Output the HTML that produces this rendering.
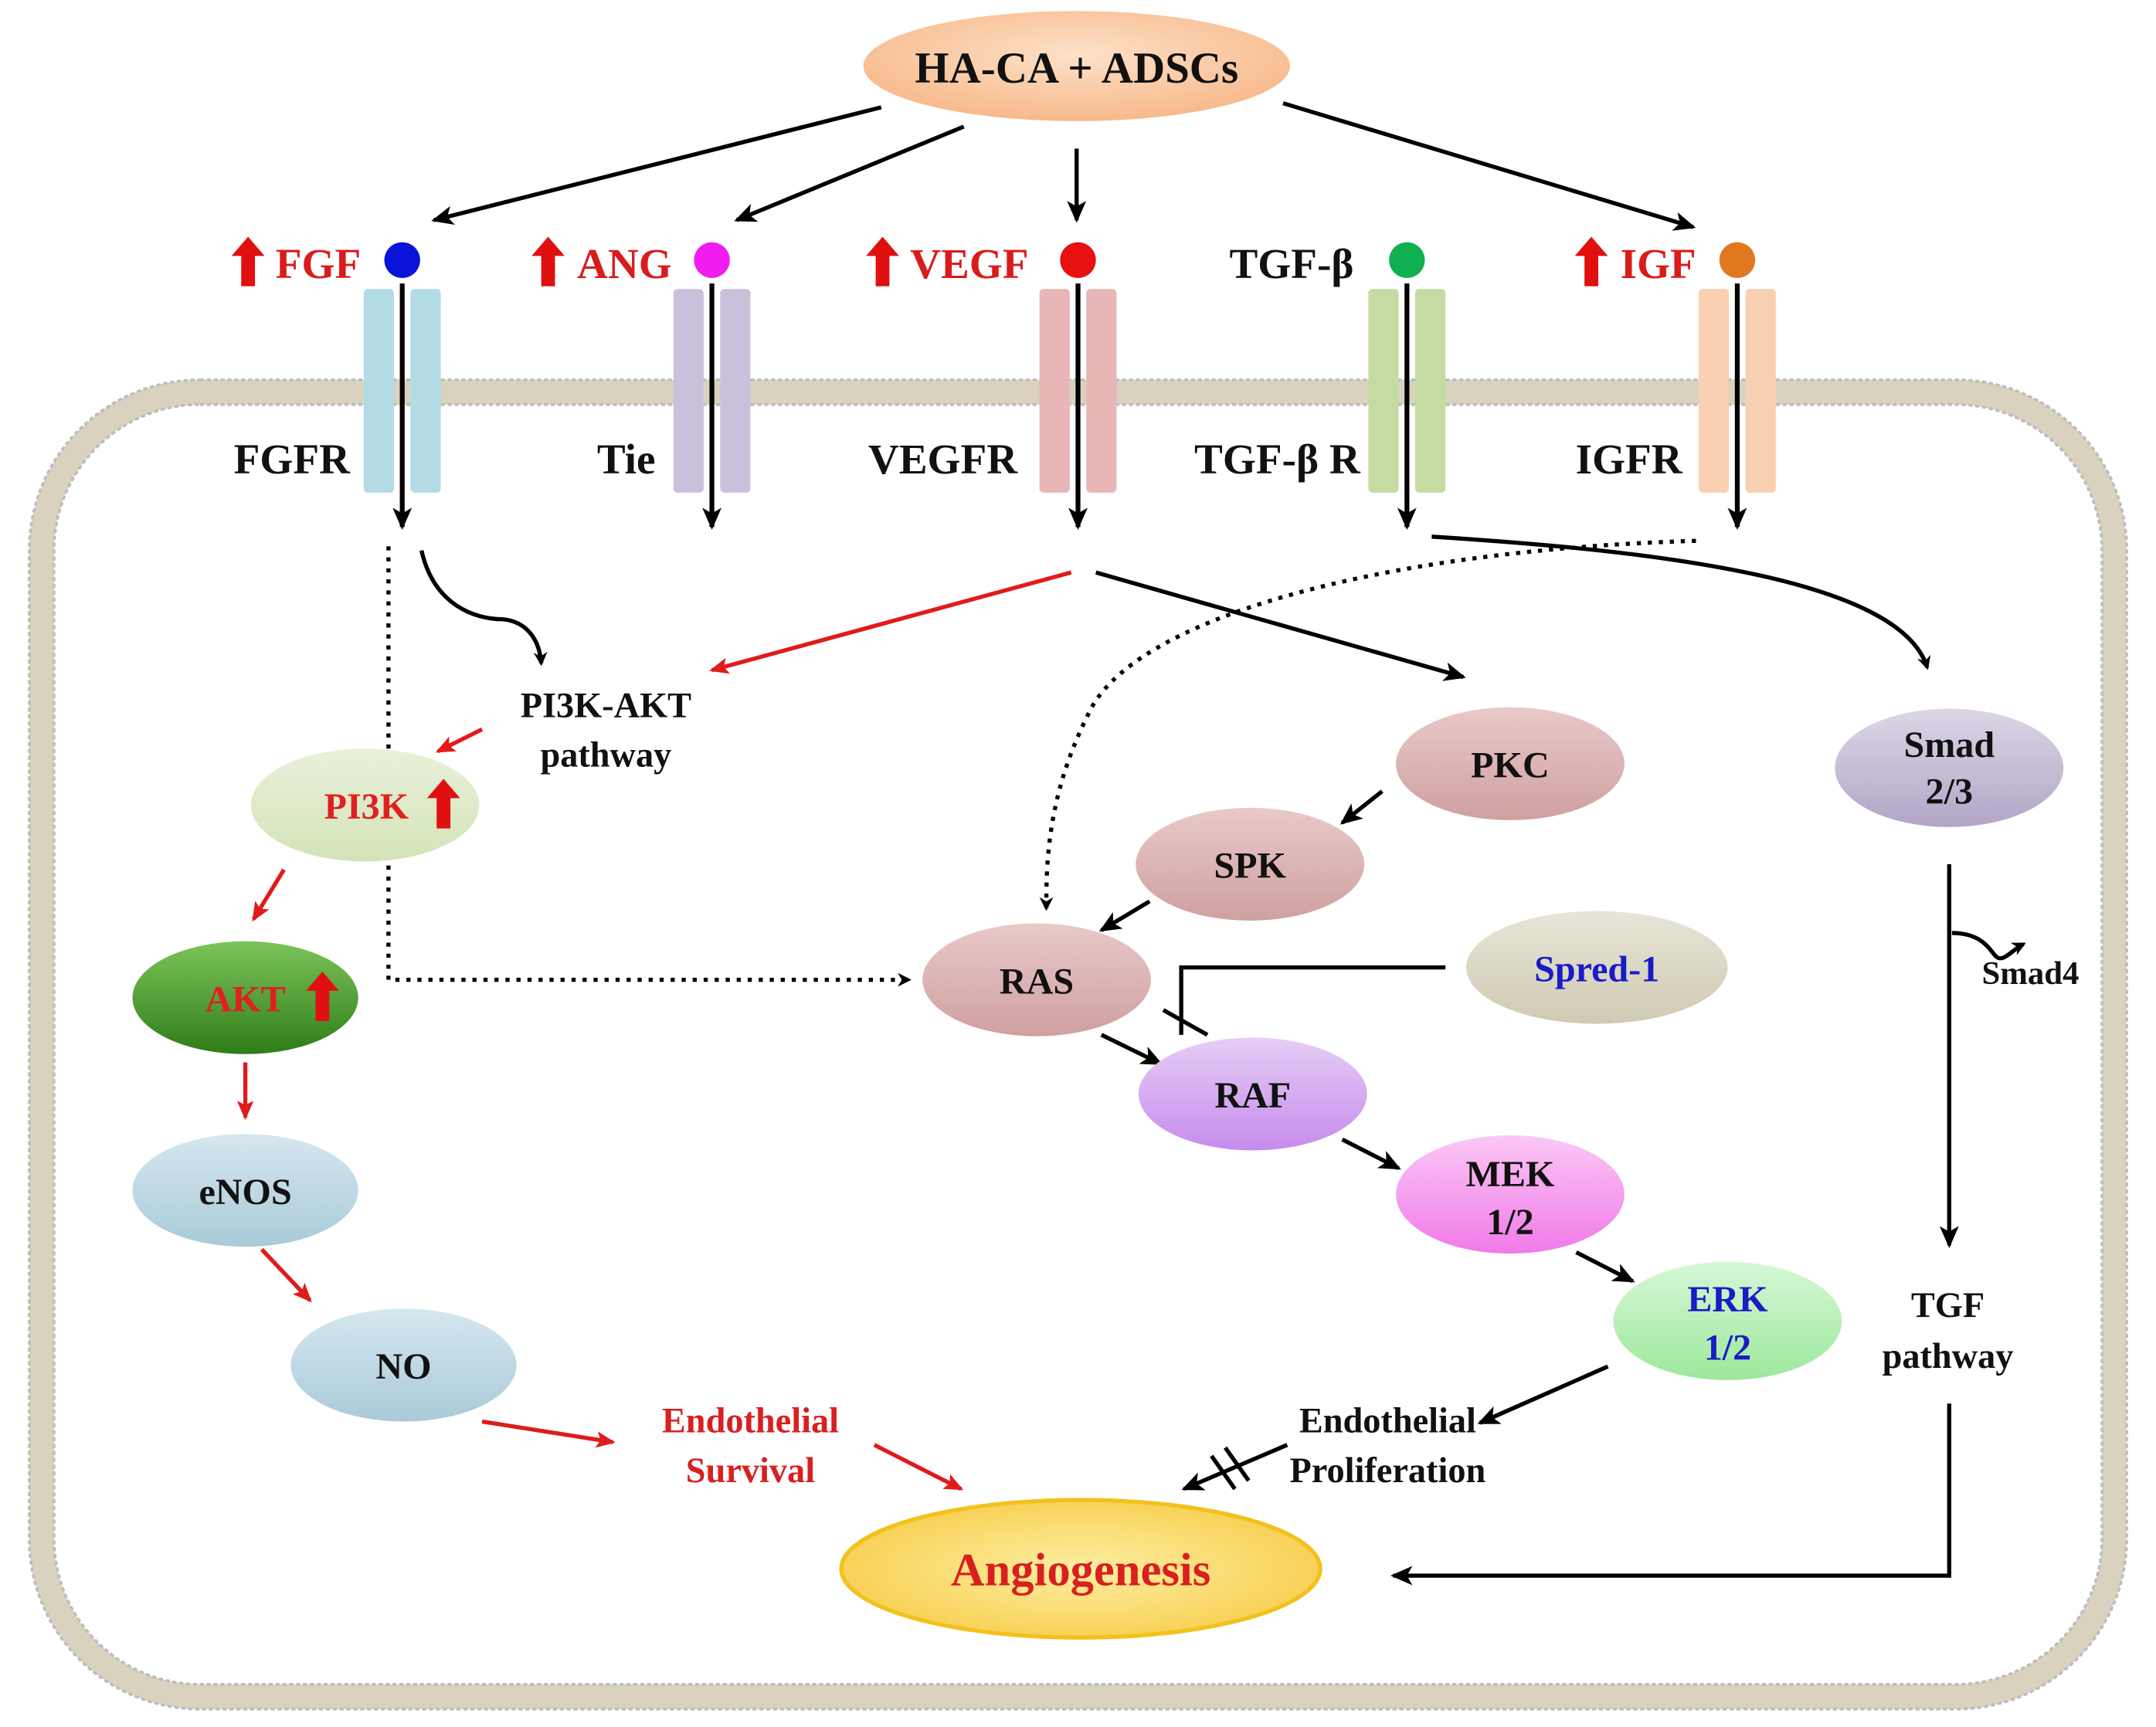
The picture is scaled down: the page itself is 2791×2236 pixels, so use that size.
<!DOCTYPE html>
<html><head><meta charset="utf-8"><style>html,body{margin:0;padding:0;background:#fff}svg{display:block}text{font-family:"Liberation Serif",serif;font-weight:bold}</style></head>
<body>
<svg width="2791" height="2236" viewBox="0 0 1566 1255" xmlns="http://www.w3.org/2000/svg">
<defs>
<marker id="ab" markerWidth="10" markerHeight="10" refX="8" refY="5" orient="auto" markerUnits="userSpaceOnUse"><path d="M0,0 L10,5 L0,10 L3,5 z" fill="#000"/></marker>
<marker id="ar" markerWidth="14" markerHeight="12" refX="12" refY="6" orient="auto" markerUnits="userSpaceOnUse"><path d="M0,0 L14,6 L0,12 L3,6 z" fill="#e01b1b"/></marker>
<marker id="abk" markerWidth="16" markerHeight="14" refX="14" refY="7" orient="auto" markerUnits="userSpaceOnUse"><path d="M0,0 L16,7 L0,14 L4,7 z" fill="#000"/></marker>
<radialGradient id="g_top" cx="50%" cy="40%" r="60%"><stop offset="0" stop-color="#fde1c8"/><stop offset="1" stop-color="#f7b98a"/></radialGradient>
<linearGradient id="g_pi3k" x1="0" y1="0" x2="0" y2="1"><stop offset="0" stop-color="#e9f1da"/><stop offset="1" stop-color="#d3e3b8"/></linearGradient>
<linearGradient id="g_akt" x1="0" y1="0" x2="0" y2="1"><stop offset="0" stop-color="#7cc45a"/><stop offset="1" stop-color="#2f7d18"/></linearGradient>
<linearGradient id="g_blue" x1="0" y1="0" x2="0" y2="1"><stop offset="0" stop-color="#d6e7ef"/><stop offset="1" stop-color="#a9cad9"/></linearGradient>
<linearGradient id="g_pink" x1="0" y1="0" x2="0" y2="1"><stop offset="0" stop-color="#e9c9c9"/><stop offset="1" stop-color="#cfa0a0"/></linearGradient>
<linearGradient id="g_spred" x1="0" y1="0" x2="0" y2="1"><stop offset="0" stop-color="#e7e5d8"/><stop offset="1" stop-color="#cfcab2"/></linearGradient>
<linearGradient id="g_raf" x1="0" y1="0" x2="0" y2="1"><stop offset="0" stop-color="#e6cdf6"/><stop offset="1" stop-color="#c68ceb"/></linearGradient>
<linearGradient id="g_mek" x1="0" y1="0" x2="0" y2="1"><stop offset="0" stop-color="#fbc8f6"/><stop offset="1" stop-color="#f07ae8"/></linearGradient>
<linearGradient id="g_erk" x1="0" y1="0" x2="0" y2="1"><stop offset="0" stop-color="#d6f7d6"/><stop offset="1" stop-color="#9ce89c"/></linearGradient>
<linearGradient id="g_smad" x1="0" y1="0" x2="0" y2="1"><stop offset="0" stop-color="#dcd6e6"/><stop offset="1" stop-color="#b1a6c6"/></linearGradient>
<radialGradient id="g_ang" cx="50%" cy="50%" r="60%"><stop offset="0" stop-color="#fdeea0"/><stop offset="1" stop-color="#f7cc4a"/></radialGradient>
</defs>

<!-- membrane -->
<rect x="30" y="285" width="1506" height="948" rx="115" fill="none" stroke="#d9d2be" stroke-width="18"/>
<rect x="21" y="276" width="1524" height="966" rx="124" fill="none" stroke="#bdbdbd" stroke-width="2" stroke-dasharray="3,2"/>
<rect x="39" y="294" width="1488" height="930" rx="106" fill="none" stroke="#bdbdbd" stroke-width="2" stroke-dasharray="3,2"/>

<!-- top node -->
<ellipse cx="782" cy="48" rx="155" ry="40" fill="url(#g_top)"/>
<text x="782" y="60" font-size="32" text-anchor="middle" fill="#111">HA-CA + ADSCs</text>
<g stroke="#000" stroke-width="3" fill="none" marker-end="url(#abk)">
<line x1="640" y1="78" x2="315" y2="160"/>
<line x1="700" y1="92" x2="535" y2="160"/>
<line x1="782" y1="108" x2="782" y2="160"/>
<line x1="932" y1="75" x2="1230" y2="165"/>
</g>

<!-- receptors -->
<g>
<rect x="264" y="210" width="22" height="148" rx="3" fill="#b3dbe6"/><rect x="298" y="210" width="22" height="148" rx="3" fill="#b3dbe6"/>
<rect x="489" y="210" width="22" height="148" rx="3" fill="#cbc0dc"/><rect x="523" y="210" width="22" height="148" rx="3" fill="#cbc0dc"/>
<rect x="755" y="210" width="22" height="148" rx="3" fill="#e8b6b6"/><rect x="789" y="210" width="22" height="148" rx="3" fill="#e8b6b6"/>
<rect x="994" y="210" width="22" height="148" rx="3" fill="#c4dba2"/><rect x="1028" y="210" width="22" height="148" rx="3" fill="#c4dba2"/>
<rect x="1234" y="210" width="22" height="148" rx="3" fill="#f9d0b2"/><rect x="1268" y="210" width="22" height="148" rx="3" fill="#f9d0b2"/>
</g>
<g stroke="#000" stroke-width="3.5" marker-end="url(#abk)">
<line x1="292" y1="206" x2="292" y2="383"/>
<line x1="517" y1="206" x2="517" y2="383"/>
<line x1="783" y1="206" x2="783" y2="383"/>
<line x1="1022" y1="206" x2="1022" y2="383"/>
<line x1="1262" y1="206" x2="1262" y2="383"/>
</g>
<circle cx="292" cy="189" r="13" fill="#0a14d8"/>
<circle cx="517" cy="189" r="13" fill="#f01cf0"/>
<circle cx="783" cy="189" r="13" fill="#e81010"/>
<circle cx="1022" cy="189" r="13" fill="#10b050"/>
<circle cx="1262" cy="189" r="13" fill="#e07820"/>

<!-- up arrows -->
<g fill="#e01010">
<path d="M180,172 l12,14 h-7 v22 h-10 v-22 h-7 z"/>
<path d="M398,172 l12,14 h-7 v22 h-10 v-22 h-7 z"/>
<path d="M641,172 l12,14 h-7 v22 h-10 v-22 h-7 z"/>
<path d="M1156,172 l12,14 h-7 v22 h-10 v-22 h-7 z"/>
</g>
<g font-size="31">
<text x="200" y="202" fill="#d81c1c">FGF</text>
<text x="419" y="202" fill="#d81c1c">ANG</text>
<text x="661" y="202" fill="#d81c1c">VEGF</text>
<text x="893" y="202" fill="#111">TGF-β</text>
<text x="1177" y="202" fill="#d81c1c">IGF</text>
<text x="254" y="344" text-anchor="end" fill="#111">FGFR</text>
<text x="476" y="344" text-anchor="end" fill="#111">Tie</text>
<text x="739" y="344" text-anchor="end" fill="#111">VEGFR</text>
<text x="988" y="344" text-anchor="end" fill="#111">TGF-β R</text>
<text x="1222" y="344" text-anchor="end" fill="#111">IGFR</text>
</g>

<!-- connectors -->
<g fill="none" stroke-width="3">
<path d="M282,397 V712 H660" stroke="#000" stroke-dasharray="3,5" marker-end="url(#ab)"/>
<path d="M306,400 C315,440 345,450 365,450 C385,452 392,468 393,482" stroke="#000" marker-end="url(#ab)"/>
<line x1="778" y1="416" x2="517" y2="487" stroke="#e01b1b" marker-end="url(#ar)"/>
<line x1="796" y1="416" x2="1063" y2="492" stroke="#000" marker-end="url(#abk)"/>
<path d="M1040,390 C1200,400 1380,420 1400,485" stroke="#000" marker-end="url(#ab)"/>
<path d="M1232,393 C1000,400 820,450 790,520 C760,580 760,630 760,660" stroke="#000" stroke-dasharray="3,5" marker-end="url(#ab)"/>
<line x1="350" y1="530" x2="318" y2="546" stroke="#e01b1b" marker-end="url(#ar)"/>
<line x1="206" y1="632" x2="184" y2="668" stroke="#e01b1b" marker-end="url(#ar)"/>
<line x1="178" y1="772" x2="178" y2="812" stroke="#e01b1b" marker-end="url(#ar)"/>
<line x1="190" y1="908" x2="225" y2="945" stroke="#e01b1b" marker-end="url(#ar)"/>
<line x1="350" y1="1033" x2="445" y2="1048" stroke="#e01b1b" marker-end="url(#ar)"/>
<line x1="635" y1="1050" x2="698" y2="1082" stroke="#e01b1b" marker-end="url(#ar)"/>
<line x1="1004" y1="575" x2="975" y2="598" stroke="#000" marker-end="url(#abk)"/>
<line x1="835" y1="655" x2="800" y2="676" stroke="#000" marker-end="url(#abk)"/>
<path d="M1050,703 H858 V752" stroke="#000"/>
<line x1="845" y1="734" x2="877" y2="752" stroke="#000"/>
<line x1="800" y1="752" x2="843" y2="773" stroke="#000" marker-end="url(#abk)"/>
<line x1="975" y1="828" x2="1016" y2="849" stroke="#000" marker-end="url(#abk)"/>
<line x1="1145" y1="910" x2="1186" y2="931" stroke="#000" marker-end="url(#abk)"/>
<line x1="1168" y1="993" x2="1075" y2="1034" stroke="#000" marker-end="url(#abk)"/>
<line x1="935" y1="1050" x2="860" y2="1082" stroke="#000" marker-end="url(#abk)"/>
<line x1="880" y1="1058" x2="897" y2="1082" stroke="#000"/>
<line x1="890" y1="1052" x2="907" y2="1076" stroke="#000"/>
<line x1="1416" y1="628" x2="1416" y2="905" stroke="#000" marker-end="url(#abk)"/>
<path d="M1418,678 C1440,678 1445,690 1450,695 C1455,700 1462,690 1470,686" stroke="#000" marker-end="url(#ab)"/>
<path d="M1416,1020 V1145 H1012" stroke="#000" marker-end="url(#abk)"/>
</g>

<!-- nodes -->
<ellipse cx="265" cy="585" rx="83" ry="41" fill="url(#g_pi3k)"/>
<text x="266" y="595" font-size="27" text-anchor="middle" fill="#e02020">PI3K</text>
<path d="M322,566 l12,14 h-7 v22 h-10 v-22 h-7 z" fill="#e01010"/>
<ellipse cx="178" cy="725" rx="82" ry="41" fill="url(#g_akt)"/>
<text x="178" y="735" font-size="27" text-anchor="middle" fill="#e02020">AKT</text>
<path d="M234,706 l12,14 h-7 v22 h-10 v-22 h-7 z" fill="#e01010"/>
<ellipse cx="178" cy="865" rx="82" ry="41" fill="url(#g_blue)"/>
<text x="178" y="875" font-size="27" text-anchor="middle" fill="#111">eNOS</text>
<ellipse cx="293" cy="992" rx="82" ry="41" fill="url(#g_blue)"/>
<text x="293" y="1002" font-size="27" text-anchor="middle" fill="#111">NO</text>

<ellipse cx="1097" cy="555" rx="83" ry="41" fill="url(#g_pink)"/>
<text x="1097" y="565" font-size="27" text-anchor="middle" fill="#111">PKC</text>
<ellipse cx="908" cy="628" rx="83" ry="41" fill="url(#g_pink)"/>
<text x="908" y="638" font-size="27" text-anchor="middle" fill="#111">SPK</text>
<ellipse cx="753" cy="712" rx="83" ry="41" fill="url(#g_pink)"/>
<text x="753" y="722" font-size="27" text-anchor="middle" fill="#111">RAS</text>
<ellipse cx="1160" cy="703" rx="95" ry="41" fill="url(#g_spred)"/>
<text x="1160" y="713" font-size="27" text-anchor="middle" fill="#1a1ac8">Spred-1</text>
<ellipse cx="910" cy="795" rx="83" ry="41" fill="url(#g_raf)"/>
<text x="910" y="805" font-size="27" text-anchor="middle" fill="#111">RAF</text>
<ellipse cx="1097" cy="868" rx="83" ry="43" fill="url(#g_mek)"/>
<text x="1097" y="862" font-size="27" text-anchor="middle" fill="#111">MEK</text>
<text x="1097" y="897" font-size="27" text-anchor="middle" fill="#111">1/2</text>
<ellipse cx="1255" cy="960" rx="83" ry="43" fill="url(#g_erk)"/>
<text x="1255" y="953" font-size="27" text-anchor="middle" fill="#1a1ac8">ERK</text>
<text x="1255" y="988" font-size="27" text-anchor="middle" fill="#1a1ac8">1/2</text>
<ellipse cx="1416" cy="558" rx="83" ry="43" fill="url(#g_smad)"/>
<text x="1416" y="550" font-size="27" text-anchor="middle" fill="#111">Smad</text>
<text x="1416" y="584" font-size="27" text-anchor="middle" fill="#111">2/3</text>

<ellipse cx="785" cy="1140" rx="174" ry="50" fill="url(#g_ang)" stroke="#f2c21c" stroke-width="3"/>
<text x="785" y="1152" font-size="34" text-anchor="middle" fill="#d82020">Angiogenesis</text>

<g font-size="26" text-anchor="middle">
<text x="440" y="521" fill="#111">PI3K-AKT</text>
<text x="440" y="557" fill="#111">pathway</text>
<text x="545" y="1041" fill="#d82020">Endothelial</text>
<text x="545" y="1077" fill="#d82020">Survival</text>
<text x="1008" y="1041" fill="#111">Endothelial</text>
<text x="1008" y="1077" fill="#111">Proliferation</text>
<text x="1415" y="957" fill="#111">TGF</text>
<text x="1415" y="994" fill="#111">pathway</text>
<text x="1475" y="715" fill="#111" font-size="24">Smad4</text>
</g>
</svg>
</body></html>
